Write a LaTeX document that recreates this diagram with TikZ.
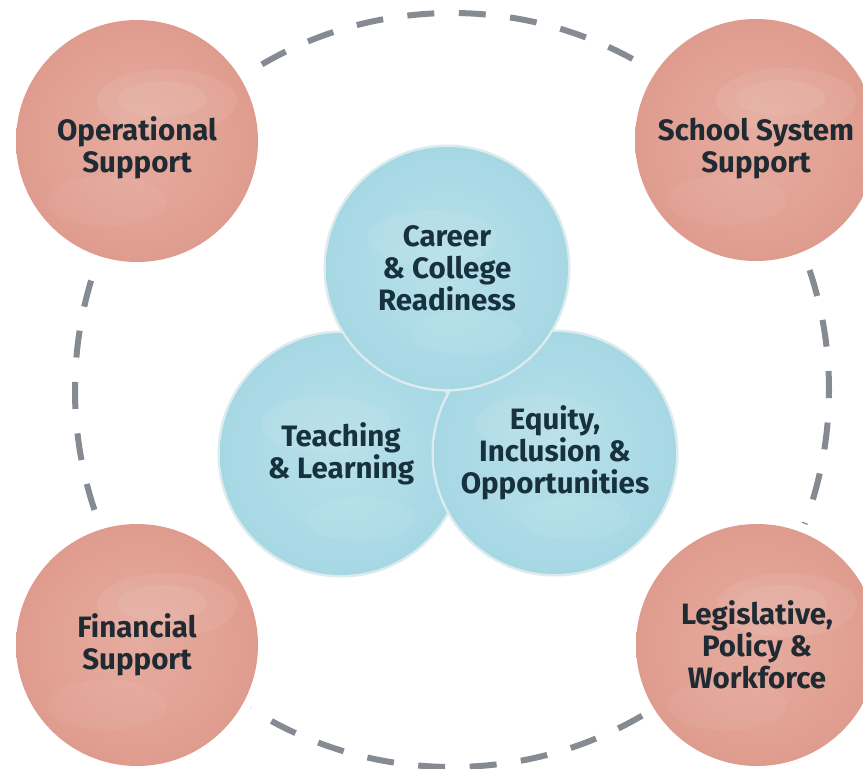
\documentclass[tikz,border=0pt]{standalone}
\usepackage{fontspec}
\setmainfont{Fira Sans}
\definecolor{salmon}{HTML}{DF9C8E}
\definecolor{salmonlight}{HTML}{E6AC9F}
\definecolor{sky}{HTML}{A6D8E4}
\definecolor{skylight}{HTML}{B8E0EA}
\definecolor{ink}{HTML}{1F2A32}
\definecolor{inkblue}{HTML}{17313F}
\definecolor{halo}{HTML}{DCEBEE}
\definecolor{dashgray}{HTML}{868A92}
\begin{document}
\begin{tikzpicture}[x=1pt,y=-1pt,
    ball/.style={circle,minimum size=242pt,inner sep=0pt,
      preaction={draw=halo,line width=5pt}},
    balltext/.style={align=center,font=\fontsize{29.5}{32}\selectfont\bfseries},
    redball/.style={ball,inner color=salmonlight,outer color=salmon,
      preaction={draw=white,line width=18pt},
      path picture={
        \fill[white,opacity=.07] ([shift={(30,-40)}]path picture bounding box.center) ellipse (70pt and 32pt);
        \fill[white,opacity=.07] ([shift={(25,-42)}]path picture bounding box.center) ellipse (45pt and 18pt);
        \fill[white,opacity=.05] ([shift={(-30,60)}]path picture bounding box.center) ellipse (60pt and 25pt);}},
    redtext/.style={balltext,text=ink},
    blueball/.style={ball,balltext,text=inkblue,inner color=skylight,outer color=sky,
      path picture={
        \fill[white,opacity=.08] ([shift={(-15,-30)}]path picture bounding box.center) ellipse (65pt and 28pt);
        \fill[white,opacity=.06] ([shift={(20,65)}]path picture bounding box.center) ellipse (55pt and 22pt);}},
    ring/.style={dashgray,line width=6pt,dash pattern=on 27pt off 24.5pt,dash phase=8pt}]
    \useasboundingbox (0,0) rectangle (863,769);
    \fill[white] (0,0) rectangle (863,769);
    \draw[ring] (452,390) circle[radius=377pt];
    % corner circles
    \node[redball,label={[redtext,yshift=-7pt]center:{Operational\\Support}}] (ops) at (137,141) {};
    \node[redball,label={[redtext,yshift=-9pt]center:{School System\\Support}}] (school) at (756,140) {};
    \node[redball,label={[redtext]center:{Financial\\Support}}] (fin) at (137,645) {};
    \node[redball,label={[redtext]center:{Legislative,\\Policy \&\\Workforce}}] (legis) at (757,645) {};
    % middle circles
    \node[blueball] (teach) at (341,454) {Teaching\\\& Learning};
    \node[blueball] (equity) at (555,453) {Equity,\\Inclusion \&\\Opportunities};
    \node[blueball] (career) at (447,268) {Career\\\& College\\Readiness};
\end{tikzpicture}
\end{document}
